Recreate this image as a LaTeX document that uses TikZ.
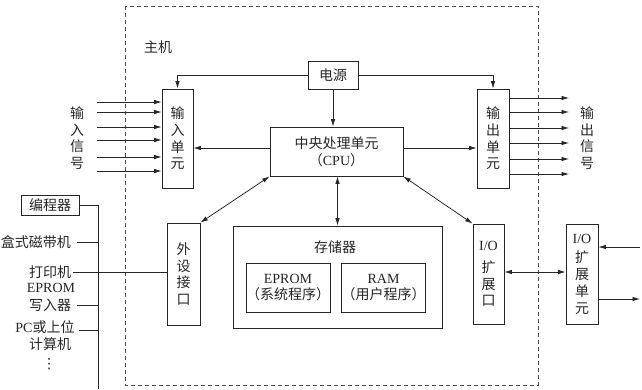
\documentclass[tikz,border=0pt]{standalone}
\usepackage{fontspec}
\setmainfont{Liberation Serif}
\newfontfamily\cjk{Noto Sans CJK SC}
\newfontfamily\symfont{DejaVu Sans}
\usetikzlibrary{arrows.meta, positioning}
\tikzset{
  blk/.style={rectangle, draw=black!85, line width=0.8pt, inner sep=0pt,
              align=center},
  vblk/.style={blk, font=\fontsize{14}{16.7}\selectfont\cjk},
  lbl/.style={inner sep=1pt, align=center},
  arr/.style={-{Latex[length=7.5pt,width=4.5pt]}, line width=0.75pt},
  darr/.style={{Latex[length=7.5pt,width=4.5pt]}-{Latex[length=7.5pt,width=4.5pt]},
               line width=0.75pt},
  ln/.style={line width=0.75pt},
  host/.style={draw=black!70, line width=1pt, dash pattern=on 4pt off 3pt},
}

\begin{document}
\begin{tikzpicture}[x=1pt, y=-1pt, font=\fontsize{14}{16.7}\selectfont,
    text=black!85, draw=black!85]
  \useasboundingbox (0,0) rectangle (642,389);
  % host frame
  \draw[host] (125,6) rectangle (538,385);
  \node[lbl] (hostlbl) at (158,47) {\cjk 主机};

  % blocks of the host
  \node[blk, minimum width=50pt, minimum height=28pt] (power) at (333,75) {\cjk 电源};
  \node[blk, minimum width=133pt, minimum height=49pt] (cpu) at (336.5,151.5)
       {{\cjk 中央处理单元}\\{\cjk （}CPU{\cjk ）}};
  \node[vblk, minimum width=31pt, minimum height=99pt] (inp)  at (177.5,138.5) {输\\入\\单\\元};
  \node[vblk, minimum width=32pt, minimum height=99pt] (outp) at (493,138.5)   {输\\出\\单\\元};
  \node[blk, minimum width=209pt, minimum height=102pt] (mem) at (337.5,277) {};
  \node[lbl] (memlbl) at (335,247) {\cjk 存储器};
  \node[blk, minimum width=82pt, minimum height=49pt] (eprom) at (288,287.5)
       {EPROM\\{\cjk （系统程序）}};
  \node[blk, minimum width=83pt, minimum height=49pt] (ram) at (383.5,287.5)
       {RAM\\{\cjk （用户程序）}};
  \node[vblk, minimum width=33pt, minimum height=102pt] (periph) at (183.5,274) {外\\设\\接\\口};
  \node[vblk, minimum width=31pt, minimum height=100pt] (ioport) at (488.5,274)
       {{\rmfamily I/O}\\[5pt]扩\\展\\口};
  \node[vblk, minimum width=32pt, minimum height=100pt] (iounit) at (582,274)
       {{\rmfamily I/O}\\[3pt]扩\\展\\单\\元};

  % signal labels
  \node[lbl, font=\fontsize{14}{16.7}\selectfont\cjk] (inlbl)  at (77,138)  {输\\入\\信\\号};
  \node[lbl, font=\fontsize{14}{16.7}\selectfont\cjk] (outlbl) at (587,138) {输\\出\\信\\号};

  % peripherals on the left
  \node[blk, minimum width=58pt, minimum height=20pt] (prog) at (50,205) {\cjk 编程器};
  \node[lbl] (tape)  at (36,242) {\cjk 盒式磁带机};
  \node[lbl] (prn)   at (50,272) {\cjk 打印机};
  \node[lbl] (eprw1) at (51,288) {EPROM};
  \node[lbl] (eprw)  at (50,305) {\cjk 写入器};
  \node[lbl] (pc)    at (45,327) {PC{\cjk 或上位}};
  \node[lbl] (pc2)   at (50,344) {\cjk 计算机};
  \node[lbl] (dots)  at (49,364) {\symfont ⋮};
  \coordinate (busend) at (98,389);

  % power distribution
  \draw[arr] (power.west) -| (inp.north);
  \draw[arr] (power.east) -| (outp.north);
  \draw[arr] (power.south) -- (power.south |- cpu.north);

  % cpu links
  \draw[arr] ([yshift=3.5pt]cpu.west) -- ([yshift=3.5pt]cpu.west -| inp.east);
  \draw[arr] ([yshift=3.5pt]cpu.east) -- ([yshift=3.5pt]cpu.east -| outp.west);
  \draw[darr] (cpu.south -| mem.north) -- (mem.north);
  \draw[darr] (periph.north east) -- (cpu.south west);
  \draw[darr] (ioport.north west) -- (cpu.south east);
  \draw[darr] ([yshift=2pt]ioport.east) -- ([yshift=2pt]iounit.west);

  % expansion unit signals
  \coordinate (uin)  at (640,247);
  \coordinate (uout) at (640,299);
  \draw[arr] (uin) -- (uin -| iounit.east);
  \draw[arr] (uout -| iounit.east) -- (uout);

  % input and output signals
  \foreach \y in {102,112,127,140,157,171} {
    \coordinate (i\y) at (97,\y);
    \draw[arr] (i\y) -- (i\y -| inp.west);
  }
  \foreach \y in {98,112,128,143,159,174} {
    \coordinate (o\y) at (569,\y);
    \draw[arr] (o\y -| outp.east) -- (o\y);
  }

  % peripheral bus
  \draw[ln] (prog.east) -| (busend);
  \draw[ln] ([xshift=5pt]tape.east) -- (tape.east -| busend);
  \draw[ln] ([xshift=1pt]prn.east) -- (prn.east -| periph.west);
  \draw[ln] ([xshift=5pt]eprw.east) -- (eprw.east -| busend);
  \draw[ln] ([xshift=3pt,yshift=-3pt]pc.east) -- ([yshift=-3pt]pc.east -| busend);
\end{tikzpicture}
\end{document}
